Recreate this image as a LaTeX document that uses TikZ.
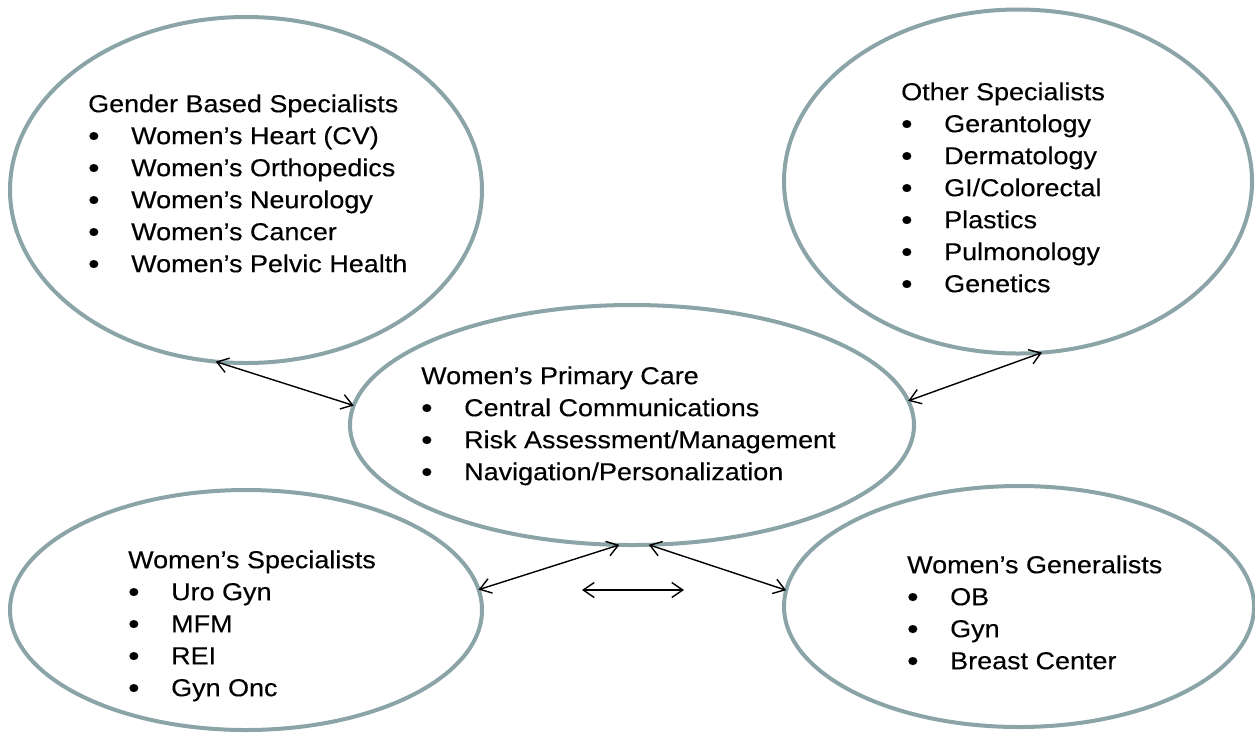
\documentclass[tikz,border=0pt]{standalone}
\usepackage{fontspec}
\setmainfont{Liberation Sans}[FakeStretch=1.1,FakeBold=0.3]
\usetikzlibrary{shapes.geometric,arrows.meta}
\definecolor{rimgray}{RGB}{139,164,167}
\newcommand{\itm}[1]{\makebox[43pt][l]{\raisebox{-1.6pt}{\scalebox{1.2}{\textbullet}}}#1}
\begin{document}
\begin{tikzpicture}[x=1pt,y=-1pt,
  oval/.style={ellipse,draw=rimgray,line width=4pt,inner sep=0pt,outer sep=0pt},
  blocktext/.style={anchor=north west,inner sep=0pt,align=left,
    font=\fontsize{24.5}{32}\selectfont},
  link/.style={line width=1.4pt,
    {Straight Barb[length=11pt,width=15pt]}-{Straight Barb[length=11pt,width=15pt]}}]
\useasboundingbox (0,0) rectangle (1255,732);

% the five groups
\node[oval,minimum width=472pt,minimum height=346pt] (gender) at (246,190) {};
\node[oval,minimum width=468pt,minimum height=344pt] (other) at (1018,181.5) {};
\node[oval,minimum width=564pt,minimum height=240pt] (primary) at (632,425) {};
\node[oval,minimum width=472pt,minimum height=240pt] (wspec) at (246,610) {};
\node[oval,minimum width=470pt,minimum height=241pt] (wgen) at (1019,606.5) {};

% their contents
\node[blocktext] (gendertext) at (88,89.6) {\strut Gender Based Specialists\\
  \itm{Women’s Heart (CV)}\\ \itm{Women’s Orthopedics}\\ \itm{Women’s Neurology}\\
  \itm{Women’s Cancer}\\ \itm{Women’s Pelvic Health}};
\node[blocktext] (othertext) at (901,77.6) {\strut Other Specialists\\
  \itm{Gerantology}\\ \itm{Dermatology}\\ \itm{GI/Colorectal}\\
  \itm{Plastics}\\ \itm{Pulmonology}\\ \itm{Genetics}};
\node[blocktext] (primarytext) at (421,361.6) {\strut Women’s Primary Care\\
  \itm{Central Communications}\\ \itm{Risk Assessment/Management}\\
  \itm{Navigation/Personalization}};
\node[blocktext] (wspectext) at (128,545.6) {\strut Women’s Specialists\\
  \itm{Uro Gyn}\\ \itm{MFM}\\ \itm{REI}\\ \itm{Gyn Onc}};
\node[blocktext] (wgentext) at (907,550.6) {\strut Women’s Generalists\\
  \itm{OB}\\ \itm{Gyn}\\ \itm{Breast Center}};

% two-way links
\draw[link] (gender.-100.2) -- (primary.176.7);
\draw[link] (primary.5.2) -- (other.-82.4);
\draw[link] (primary.-96.7) -- (wspec.5.4);
\draw[link] (primary.-82.9) -- (wgen.176.5);
\coordinate (pairL) at (582,590);
\coordinate (pairR) at (684,590);
\draw[link] (pairL) -- (pairR);
\end{tikzpicture}
\end{document}
